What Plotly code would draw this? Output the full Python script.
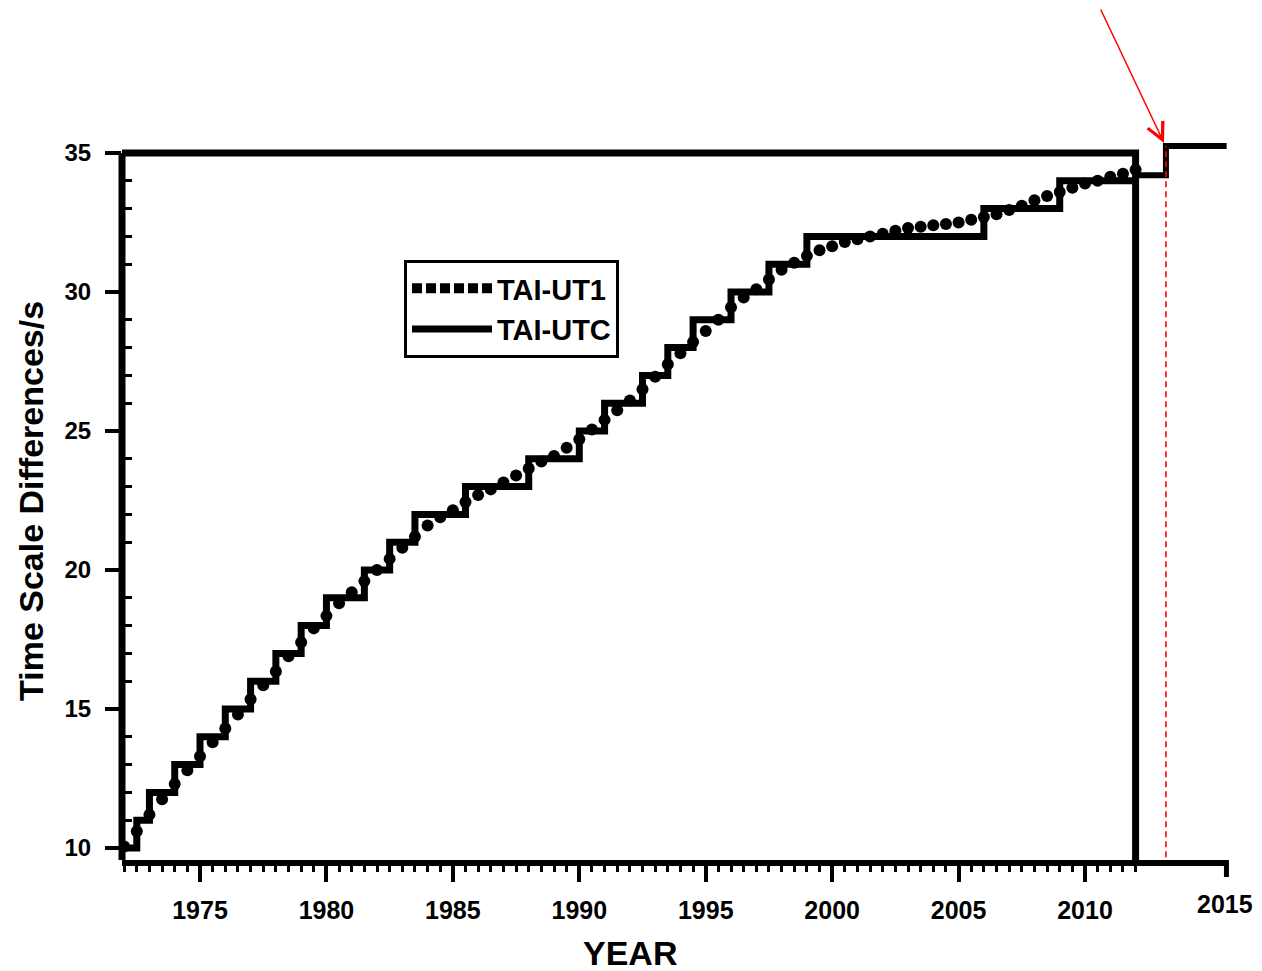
import plotly.graph_objects as go

# ---------------- data ----------------
# TAI-UTC (leap-second steps): year of change and new value
utc_years = [1972.0, 1972.5, 1973.0, 1974.0, 1975.0, 1976.0, 1977.0, 1978.0, 1979.0,
             1980.0, 1981.5, 1982.5, 1983.5, 1985.5, 1988.0, 1990.0, 1991.0, 1992.5,
             1993.5, 1994.5, 1996.0, 1997.5, 1999.0, 2006.0, 2009.0, 2012.0]
utc_values = [10, 11, 12, 13, 14, 15, 16, 17, 18,
              19, 20, 21, 22, 23, 24, 25, 26, 27,
              28, 29, 30, 31, 32, 33, 34, 34]

# TAI-UT1 sampled every half year, 1972.0 ... 2012.0
ut1_years = [1972.0 + 0.5 * i for i in range(81)]
ut1_values = [10.05, 10.6, 11.2, 11.75, 12.3, 12.8, 13.3, 13.8, 14.3, 14.8,
              15.35, 15.85, 16.35, 16.9, 17.4, 17.9, 18.35, 18.8, 19.2, 19.6,
              20.0, 20.4, 20.8, 21.2, 21.6, 21.9, 22.15, 22.45, 22.7, 22.9,
              23.15, 23.4, 23.65, 23.9, 24.1, 24.4, 24.7, 25.05, 25.4, 25.75,
              26.1, 26.5, 26.95, 27.4, 27.8, 28.2, 28.6, 29.0, 29.45, 29.8,
              30.1, 30.45, 30.8, 31.05, 31.3, 31.5, 31.65, 31.8, 31.9, 32.0,
              32.1, 32.2, 32.3, 32.35, 32.4, 32.45, 32.5, 32.6, 32.7, 32.8,
              32.95, 33.1, 33.3, 33.45, 33.6, 33.75, 33.9, 34.0, 34.15, 34.25,
              34.4]

# extension beyond the frame (added step)
ext_years = [2012.0, 2013.2, 2015.6]
ext_values = [34.2, 35.25, 35.25]
marker_year = 2013.2

x_tick_years = [1975, 1980, 1985, 1990, 1995, 2000, 2005, 2010]
y_tick_values = [10, 15, 20, 25, 30, 35]

# ---------------- layout constants ----------------
X_RANGE = [1971.915, 2015.615]
Y_RANGE = [9.568, 35.396]
FRAME_RIGHT = 2012.0
FRAME_TOP = 35
FONT = "Liberation Sans, Arial, Helvetica, sans-serif"

fig = go.Figure()

fig.add_trace(go.Scatter(
    x=ut1_years, y=ut1_values, mode="markers",
    marker=dict(size=12, color="black"),
    showlegend=False, hoverinfo="x+y", name="TAI-UT1"))

# legend proxy for the dotted series
fig.add_trace(go.Scatter(
    x=[None], y=[None], mode="lines", name="TAI-UT1",
    line=dict(color="black", width=10, dash="10px,4px")))

fig.add_trace(go.Scatter(
    x=utc_years, y=utc_values, mode="lines", name="TAI-UTC",
    line=dict(color="black", width=7, shape="hv")))

fig.add_trace(go.Scatter(
    x=ext_years, y=ext_values, mode="lines", showlegend=False,
    line=dict(color="black", width=6, shape="hv"), hoverinfo="skip"))

minor_x = [1972 + 0.5 * i for i in range(81) if (1972 + 0.5 * i) % 5 != 0]
minor_y = [v for v in range(11, 35) if v % 5 != 0]

fig.update_xaxes(
    range=X_RANGE, showgrid=False, zeroline=False,
    showline=True, linecolor="black", linewidth=6,
    tickmode="array", tickvals=x_tick_years, ticktext=[str(v) for v in x_tick_years],
    ticks="outside", ticklen=16, tickwidth=4, tickcolor="black",
    ticklabelstandoff=7,
    tickfont=dict(family=FONT, size=25, color="black", weight="bold"),
    minor=dict(tickmode="array", tickvals=minor_x, ticks="outside",
               ticklen=6, tickwidth=3, tickcolor="black"),
)
fig.update_yaxes(
    range=Y_RANGE, showgrid=False, zeroline=False, showline=False,
    tickmode="array", tickvals=y_tick_values, ticktext=[str(v) for v in y_tick_values],
    ticks="outside", ticklen=16, tickwidth=4, tickcolor="black",
    ticklabelstandoff=9,
    tickfont=dict(family=FONT, size=24, color="black", weight="bold"),
    minor=dict(tickmode="array", tickvals=minor_y, ticks="inside",
               ticklen=10, tickwidth=3, tickcolor="black"),
)

shapes = [
    # left frame / y axis line
    dict(type="line", xref="paper", yref="y", x0=0, x1=0,
         y0=Y_RANGE[0], y1=FRAME_TOP, line=dict(color="black", width=7)),
    # top + right frame
    dict(type="path", xref="x", yref="y",
         path=f"M {X_RANGE[0]},{FRAME_TOP} L {FRAME_RIGHT},{FRAME_TOP} L {FRAME_RIGHT},{Y_RANGE[0]}",
         line=dict(color="black", width=7)),
    # red dashed marker line
    dict(type="line", xref="x", yref="y", x0=marker_year, x1=marker_year,
         y0=Y_RANGE[0] + 0.1, y1=ext_values[-1],
         line=dict(color="red", width=1.6, dash="6px,4px")),
    # end tick of the x axis
    dict(type="line", xref="paper", yref="paper", x0=0.9995, x1=0.9995,
         y0=0.0, y1=-0.0237, line=dict(color="black", width=5)),
]
fig.update_layout(shapes=shapes)

fig.add_annotation(xref="paper", yref="paper", x=0.998, y=-0.0613,
                   text="2015", showarrow=False, xanchor="center", yanchor="middle",
                   font=dict(family=FONT, size=25, color="black", weight="bold"))
fig.add_annotation(xref="paper", yref="paper", x=0.4597, y=-0.1295,
                   text="YEAR", showarrow=False, xanchor="center", yanchor="middle",
                   font=dict(family=FONT, size=34, color="black", weight="bold"))
fig.add_annotation(xref="paper", yref="paper", x=-0.0824, y=0.5,
                   text="Time Scale Differences/s", showarrow=False, textangle=-90,
                   xanchor="center", yanchor="middle",
                   font=dict(family=FONT, size=34, color="black", weight="bold"))
# red arrow
fig.add_annotation(xref="paper", yref="paper", x=0.943, y=0.9986,
                   text="", showarrow=True, axref="pixel", ayref="pixel",
                   ax=-64, ay=-135, arrowhead=5, arrowsize=2.2, arrowwidth=1.5,
                   arrowcolor="red", standoff=0, startstandoff=0)

fig.update_layout(
    width=1262, height=971,
    margin=dict(l=122, r=35, t=142, b=111),
    paper_bgcolor="white", plot_bgcolor="white",
    legend=dict(x=0.2552, y=0.8357, xanchor="left", yanchor="top",
                bgcolor="white", bordercolor="black", borderwidth=3,
                itemwidth=80,
                font=dict(family=FONT, size=29, color="black", weight="bold")),
    font=dict(family=FONT, color="black"),
)

fig.write_html("out.html")
